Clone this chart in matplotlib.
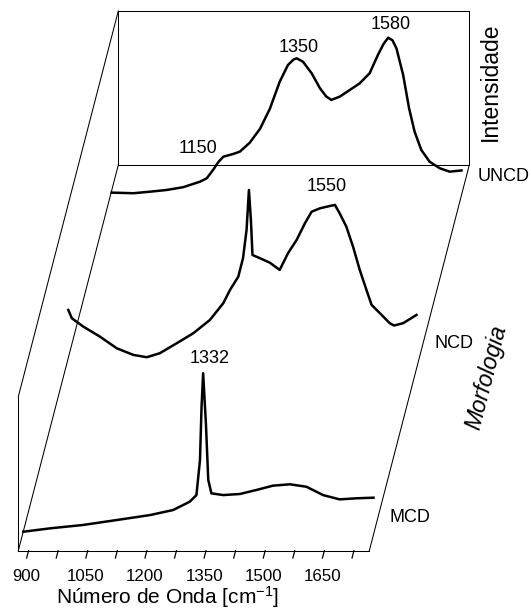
import numpy as np
import matplotlib.pyplot as plt
from matplotlib.transforms import ScaledTranslation
from matplotlib.lines import Line2D

plt.rcParams["font.family"] = ["Liberation Sans", "DejaVu Sans"]
plt.rcParams["mathtext.default"] = "regular"

# =====================================================
# dados (espectros Raman)
# =====================================================
uncd_wn = [874, 929, 971, 1013, 1055, 1098, 1115, 1131, 1144, 1157, 1182, 1199,
           1224, 1250, 1275, 1300, 1321, 1335, 1343, 1359, 1381, 1402, 1418, 1431,
           1452, 1478, 1503, 1528, 1549, 1563, 1575, 1586, 1596, 1613, 1628, 1642,
           1659, 1680, 1706, 1731, 1761]
uncd_int = [-0.014, -0.018, -0.008, 0.003, 0.021, 0.057, 0.079, 0.133, 0.183, 0.219, 0.237, 0.252,
            0.310, 0.400, 0.530, 0.706, 0.815, 0.850, 0.858, 0.836, 0.761, 0.664, 0.610, 0.588,
            0.609, 0.653, 0.696, 0.761, 0.880, 0.950, 0.992, 0.975, 0.923, 0.750, 0.534, 0.382,
            0.263, 0.187, 0.144, 0.122, 0.130]

ncd_wn = [874, 883, 912, 954, 997, 1039, 1073, 1106, 1149, 1191, 1233, 1267, 1284,
          1305, 1317, 1326, 1332, 1337, 1341, 1360, 1385, 1410, 1431, 1453, 1474,
          1491, 1512, 1537, 1550, 1562, 1579, 1596, 1613, 1630, 1643, 1664, 1689,
          1700, 1723, 1757]
ncd_int = [0.311, 0.257, 0.203, 0.138, 0.062, 0.019, 0.004, 0.030, 0.095, 0.160, 0.246, 0.355, 0.441,
           0.527, 0.647, 0.831, 1.090, 0.895, 0.668, 0.647, 0.618, 0.571, 0.679, 0.766, 0.874,
           0.949, 0.971, 0.986, 0.993, 0.939, 0.852, 0.722, 0.571, 0.441, 0.344, 0.290, 0.225,
           0.210, 0.225, 0.279]

mcd_wn = [874, 942, 1026, 1111, 1195, 1254, 1296, 1313, 1322, 1326, 1330, 1337, 1343,
          1351, 1381, 1423, 1465, 1507, 1550, 1592, 1634, 1676, 1719, 1762]
mcd_int = [-0.002, 0.020, 0.042, 0.074, 0.106, 0.139, 0.193, 0.236, 0.464, 0.810, 1.027, 0.702, 0.334,
           0.247, 0.236, 0.243, 0.269, 0.297, 0.306, 0.290, 0.236, 0.208, 0.215, 0.219]

samples = ["UNCD", "NCD", "MCD"]
tick_values = [900, 975, 1050, 1125, 1200, 1275, 1350, 1425, 1500, 1575, 1650, 1725]
tick_labels = ["900", "", "1050", "", "1200", "", "1350", "", "1500", "", "1650", ""]
peak_labels = ["1150", "1350", "1580", "1550", "1332"]

# =====================================================
# geometria (projecao obliqua)
# =====================================================
W, H = 531, 614
fig = plt.figure(figsize=(W / 100, H / 100), dpi=100)
ax = fig.add_axes([118.3 / W, (H - 165) / H, 351 / W, 154 / H])
ax.patch.set_visible(False)
ax.set_xticks([])
ax.set_yticks([])
for sp in ax.spines.values():
    sp.set_linewidth(0.75)

XMIN, XMAX = 874, 1764
depth_in = np.array([-1.0, -3.857])  # vetor de profundidade (polegadas)
depths = [0.066, 0.5, 0.95]


def shift(t, dx=0.0, dy=0.0):
    return ax.transData + ScaledTranslation(depth_in[0] * t + dx, depth_in[1] * t + dy,
                                            fig.dpi_scale_trans)


def proj(wn, inten, t):
    p = ax.transData.transform(np.column_stack([wn, inten]))
    return p + np.outer(t, depth_in * fig.dpi)


def seg(wn, inten, t, lw=0.75):
    p = proj(wn, inten, t)
    fig.add_artist(Line2D(p[:, 0], p[:, 1], transform=None, color="black", lw=lw))


spectra = [(uncd_wn, uncd_int), (ncd_wn, ncd_int), (mcd_wn, mcd_int)]
for (wn, inten), t in zip(spectra, depths):
    ax.plot(wn, inten, color="black", lw=1.8, transform=shift(t), clip_on=False,
            solid_joinstyle="round")

ax.set_xlim(XMIN, XMAX)
ax.set_ylim(0, 1)

# =====================================================
# moldura 3D
# =====================================================
seg([XMIN, XMIN], [0, 0], [0, 1])
seg([XMAX, XMAX], [0, 0], [0, 1])
seg([XMIN, XMIN], [1, 1], [0, 1])
seg([XMIN, XMAX], [0, 0], [1, 1])
seg([XMIN, XMIN], [0, 1], [1, 1])

for v, lab in zip(tick_values, tick_labels):
    seg([v, v], [0, 0], [1.0, 1.019], lw=0.9)
    if lab:
        ax.text(v, 0, lab, transform=shift(1.019, 0, -0.187), ha="center", va="center",
                fontsize=12.2, clip_on=False)

# rotulos das amostras
for name, t in zip(samples, depths):
    ax.text(XMAX, 0.09, name, transform=shift(t, 0.15, 0), ha="left", va="center",
            fontsize=13, clip_on=False)

# rotulos dos picos
peak_pos = [(1092, 0.27, 0), (1347, 0.93, 0), (1581, 1.075, 0), (1528, 1.11, 1), (1347, 1.125, 2)]
for lab, (x, y, k) in zip(peak_labels, peak_pos):
    ax.text(x, y, lab, transform=shift(depths[k]), ha="center", va="center",
            fontsize=13, clip_on=False)

# titulos dos eixos
ax.text(1.059, 0.54, "Intensidade", transform=ax.transAxes, rotation=90,
        ha="center", va="center", fontsize=16.5)
fig.text(487 / W, 1 - 377 / H, "Morfologia", rotation=75.5, style="italic",
         ha="center", va="center", fontsize=16.5)
fig.text(167.5 / W, 1 - 597 / H, "Número de Onda [cm$^{-1}$]",
         ha="center", va="center", fontsize=15)

fig.savefig("out.png", dpi=100)
